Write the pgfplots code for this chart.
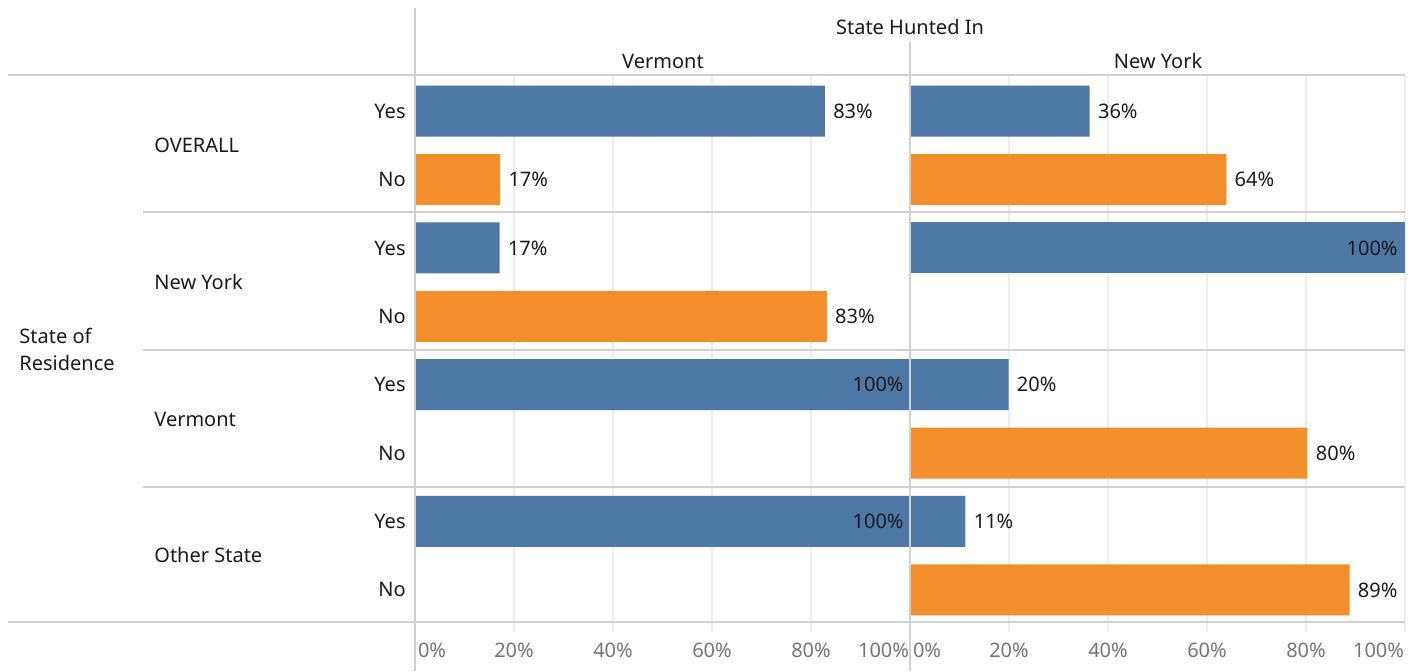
\documentclass[border=0pt]{standalone}
\usepackage{pgfplots}
\pgfplotsset{compat=1.18}
\usepackage{fontspec}
\setmainfont{Noto Sans}
\definecolor{bluec}{HTML}{4E79A7}
\definecolor{orangec}{HTML}{F28E2B}
\definecolor{gridc}{HTML}{EEEEEE}
\definecolor{sepc}{HTML}{D0D0D0}
\definecolor{tickc}{HTML}{757575}
\definecolor{txtc}{HTML}{1A1A1A}
\pgfplotsset{
  panel/.style={
    anchor=south west, scale only axis, width=247.5pt, height=273.5pt,
    xmin=0, xmax=100, ymin=-0.53, ymax=7.47, y dir=reverse,
    axis line style={draw=none},
    xbar, bar width=25.5pt, bar shift=0pt,
    xtick={0,20,40,60,80,100},
    xticklabels={\rlap{\hspace{1.5pt}0\%},20\%,40\%,60\%,80\%,\llap{100\%\hspace{0.5pt}}},
    xtick pos=bottom, tick align=outside, major tick length=5pt,
    xtick style={draw=gridc, line width=0.75pt},
    xticklabel style={text=tickc, anchor=base, yshift=-12.5pt, inner sep=0pt},
    xmajorgrids, grid style={draw=gridc, line width=0.75pt},
    ytick={0,...,7}, ytick style={draw=none},
    nodes near coords, point meta=explicit symbolic,
    every node near coord/.append style={anchor=west, inner sep=0pt, xshift=4pt, text=txtc},
  },
}
\begin{document}
\fontsize{10}{12}\selectfont
\begin{tikzpicture}
\useasboundingbox (0,0) rectangle (707.5pt,335.5pt);
% Vermont panel
\begin{axis}[panel, at={(207.5pt,24.5pt)},
  yticklabels={Yes,No,Yes,No,Yes,No,Yes,No},
  yticklabel style={anchor=east, inner sep=0pt, xshift=0.5pt, text=txtc}]
\addplot[fill=bluec, draw=none] coordinates {(82.8,0) [83\%] (17.1,2) [17\%]};
\addplot[fill=orangec, draw=none] coordinates {(17.2,1) [17\%] (83.2,3) [83\%]};
\addplot[fill=bluec, draw=none, nodes near coords style={anchor=east, xshift=-7pt}] coordinates {(100,4) [100\%] (100,6) [100\%]};
\end{axis}
% New York panel
\begin{axis}[panel, at={(455pt,24.5pt)}, yticklabels={}]
\addplot[fill=bluec, draw=none] coordinates {(36.3,0) [36\%] (19.9,4) [20\%] (11.2,6) [11\%]};
\addplot[fill=orangec, draw=none] coordinates {(63.9,1) [64\%] (80.3,5) [80\%] (88.8,7) [89\%]};
\addplot[fill=bluec, draw=none, nodes near coords style={anchor=east, xshift=-7.5pt}] coordinates {(100,2) [100\%]};
\end{axis}
\begin{scope}[x=0.5pt, y=0.5pt]
\draw[sepc, line width=0.75pt] (8,596) -- (1405,596);
\draw[sepc, line width=0.75pt] (8,49) -- (1405,49);
\foreach \yy in {212,350,487} \draw[sepc, line width=0.75pt] (143,671-\yy) -- (1405,671-\yy);
\draw[sepc, line width=0.75pt] (415,663) -- (415,0);
\draw[sepc, line width=0.75pt] (910,629) -- (910,0);
\node[text=txtc] at (910,644) {State Hunted In};
\node[text=txtc] at (663,610) {Vermont};
\node[text=txtc] at (1158,610) {New York};
\node[text=txtc, anchor=west, align=left, inner sep=0pt, font=\fontsize{10}{13.5}\selectfont] at (19,322) {State of\\Residence};
\node[text=txtc, anchor=west, inner sep=0pt] at (154,526) {OVERALL};
\node[text=txtc, anchor=west, inner sep=0pt] at (154,389) {New York};
\node[text=txtc, anchor=west, inner sep=0pt] at (154,252) {Vermont};
\node[text=txtc, anchor=west, inner sep=0pt] at (154,116) {Other State};
\end{scope}
\end{tikzpicture}
\end{document}
